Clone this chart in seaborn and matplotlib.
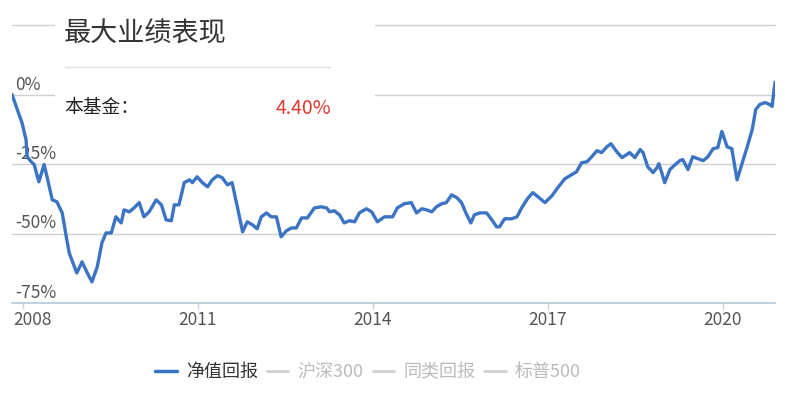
import matplotlib
matplotlib.use("Agg")
import numpy as np
import pandas as pd
import seaborn as sns
import matplotlib.pyplot as plt
from matplotlib.lines import Line2D
from matplotlib.patches import Rectangle
import matplotlib.transforms as mtransforms

# ---------------- data ----------------
years = [
    2007.82, 2007.99, 2008.06, 2008.08, 2008.15, 2008.20, 2008.28, 2008.37, 2008.42, 2008.51,
    2008.59, 2008.68, 2008.75, 2008.80, 2008.93, 2009.02, 2009.11, 2009.19, 2009.28, 2009.36,
    2009.43, 2009.52, 2009.60, 2009.69, 2009.74, 2009.83, 2009.91, 2010.00, 2010.08, 2010.17,
    2010.29, 2010.38, 2010.46, 2010.55, 2010.60, 2010.68, 2010.77, 2010.86, 2010.91, 2010.99,
    2011.08, 2011.17, 2011.25, 2011.34, 2011.42, 2011.51, 2011.59, 2011.68, 2011.77, 2011.85,
    2011.94, 2012.02, 2012.09, 2012.18, 2012.26, 2012.35, 2012.43, 2012.52, 2012.61, 2012.69,
    2012.78, 2012.88, 2013.00, 2013.12, 2013.21, 2013.26, 2013.34, 2013.43, 2013.51, 2013.60,
    2013.69, 2013.77, 2013.89, 2013.98, 2014.08, 2014.20, 2014.34, 2014.42, 2014.54, 2014.66,
    2014.75, 2014.84, 2014.92, 2015.01, 2015.09, 2015.18, 2015.26, 2015.35, 2015.44, 2015.52,
    2015.61, 2015.68, 2015.74, 2015.83, 2015.95, 2016.04, 2016.12, 2016.17, 2016.26, 2016.38,
    2016.47, 2016.55, 2016.65, 2016.74, 2016.83, 2016.95, 2017.07, 2017.17, 2017.29, 2017.41,
    2017.49, 2017.58, 2017.67, 2017.75, 2017.84, 2017.92, 2018.01, 2018.08, 2018.18, 2018.27,
    2018.35, 2018.40, 2018.49, 2018.58, 2018.63, 2018.71, 2018.80, 2018.87, 2018.90, 2018.95,
    2019.00, 2019.09, 2019.18, 2019.26, 2019.31, 2019.40, 2019.48, 2019.57, 2019.66, 2019.74,
    2019.83, 2019.91, 2019.98, 2020.07, 2020.15, 2020.24, 2020.32, 2020.41, 2020.50, 2020.56,
    2020.63, 2020.72, 2020.80, 2020.84, 2020.89,
]
nav_return = [
    0.0, -10.1, -16.2, -22.4, -24.2, -25.2, -31.4, -25.2, -29.6, -37.9,
    -38.6, -42.6, -51.2, -57.0, -64.2, -60.2, -64.2, -67.4, -62.0, -53.4,
    -49.8, -49.8, -44.0, -46.2, -41.5, -42.2, -40.8, -38.9, -44.0, -42.2,
    -37.9, -39.7, -45.1, -45.4, -39.7, -39.7, -31.7, -30.7, -31.7, -29.6,
    -31.7, -33.2, -30.7, -29.2, -29.9, -32.5, -31.7, -40.4, -49.4, -45.8,
    -46.9, -48.3, -44.0, -42.6, -44.0, -44.0, -51.2, -49.0, -48.0, -48.0,
    -44.4, -44.4, -40.8, -40.4, -40.8, -42.2, -41.8, -43.3, -46.2, -45.4,
    -45.8, -42.6, -41.1, -42.2, -45.8, -44.0, -44.0, -40.8, -39.3, -38.9,
    -42.6, -41.1, -41.5, -42.2, -40.4, -39.3, -38.9, -36.1, -37.1, -38.9,
    -43.3, -46.2, -43.3, -42.6, -42.6, -45.1, -47.6, -47.6, -44.7, -44.7,
    -44.0, -40.8, -37.5, -35.3, -36.8, -38.9, -36.4, -33.5, -30.3, -28.8,
    -27.8, -24.5, -24.2, -22.4, -20.2, -20.9, -18.8, -17.7, -20.6, -22.7,
    -21.6, -20.9, -22.7, -19.8, -20.9, -26.0, -28.1, -26.3, -24.9, -28.1,
    -31.7, -27.0, -25.2, -23.8, -23.4, -27.0, -22.4, -23.1, -23.8, -22.4,
    -19.5, -19.1, -13.3, -18.8, -19.5, -30.7, -25.2, -19.1, -12.6, -5.4,
    -3.6, -2.9, -3.6, -4.3, 4.4,
]
ytick_values = [0, -25, -50, -75]
ytick_labels = ["0%", "-25%", "-50%", "-75%"]
grid_values = [25, 0, -25, -50]
xtick_years = [2008, 2011, 2014, 2017, 2020]
legend_labels = ["净值回报", "沪深300", "同类回报", "标普500"]
title_text = "最大业绩表现"
fund_label = "本基金："
fund_return = "4.40%"

# ---------------- style ----------------
sns.set_theme(style="white")
plt.rcParams["font.family"] = ["Noto Sans CJK SC", "DejaVu Sans"]

W, H = 788, 394
fig = plt.figure(figsize=(W / 100, H / 100), dpi=100)
fig.patch.set_facecolor("white")


def fx(px):
    return px / W


def fy(py):
    return 1 - py / H


ax = fig.add_axes([fx(12), fy(303), fx(775) - fx(12), fy(25) - fy(303)])
ax.set_facecolor("white")

df = pd.DataFrame({"year": years, "value": nav_return})
sns.lineplot(data=df, x="year", y="value", ax=ax, color="#3b73c5",
             linewidth=2.4, zorder=3)

ax.set_xlim(years[0], years[-1])
ax.set_ylim(-75, 25)

for v in grid_values:
    ax.axhline(v, color="#d0d0d0", lw=1.0, zorder=1, clip_on=False)

for s in ["top", "right", "left"]:
    ax.spines[s].set_visible(False)
ax.spines["bottom"].set_color("#b9c6d8")
ax.spines["bottom"].set_linewidth(1.2)

ax.set_yticks([])
ax.set_xticks(xtick_years)
ax.set_xticklabels([str(y) for y in xtick_years])
ax.tick_params(axis="x", length=4, width=1, color="#c8d0dc",
               labelcolor="#555555", labelsize=12.5, pad=1.5, bottom=True)
ax.set_xlabel("")
ax.set_ylabel("")

# shift first x label to the right like the reference
lbl0 = ax.get_xticklabels()[0]
lbl0.set_transform(lbl0.get_transform() +
                   mtransforms.ScaledTranslation(10 / 100, 0, fig.dpi_scale_trans))

# y labels sitting above their gridlines
ytrans = mtransforms.blended_transform_factory(ax.transAxes, ax.transData) + \
    mtransforms.ScaledTranslation(0, 1 / 100, fig.dpi_scale_trans)
for v, t in zip(ytick_values, ytick_labels):
    ax.text(3 / 763, v, t, transform=ytrans, ha="left", va="bottom",
            fontsize=12.5, color="#555555", zorder=2)

# ---------------- overlay info box ----------------
fig.add_artist(Rectangle((fx(55), fy(130)), fx(375) - fx(55), fy(12) - fy(130),
                         transform=fig.transFigure, facecolor="white",
                         edgecolor="none", zorder=5))
fig.text(fx(64), fy(34), title_text, fontsize=19.5, color="#333333",
         ha="left", va="center", zorder=6)
fig.add_artist(Line2D([fx(65), fx(330)], [fy(67), fy(67)], transform=fig.transFigure,
                      color="#dddddd", lw=1, zorder=6))
fig.text(fx(64), fy(108), fund_label, fontsize=13.5, color="#222222",
         ha="left", va="center", zorder=6)
fig.text(fx(331), fy(108), fund_return, fontsize=14, color="#e0392e",
         ha="right", va="center", zorder=6)

# ---------------- legend ----------------
handles = [Line2D([], [], color="#3b73c5", lw=2.5)] + \
          [Line2D([], [], color="#cfcfcf", lw=2.0) for _ in range(3)]
fig.legend(handles, legend_labels, loc="center", bbox_to_anchor=(fx(368), fy(372)),
           ncol=4, frameon=False, fontsize=13, handlelength=1.2,
           handletextpad=0.5, columnspacing=0.5,
           labelcolor=["#333333", "#bbbbbb", "#bbbbbb", "#bbbbbb"])

fig.savefig("out.png", dpi=100)
